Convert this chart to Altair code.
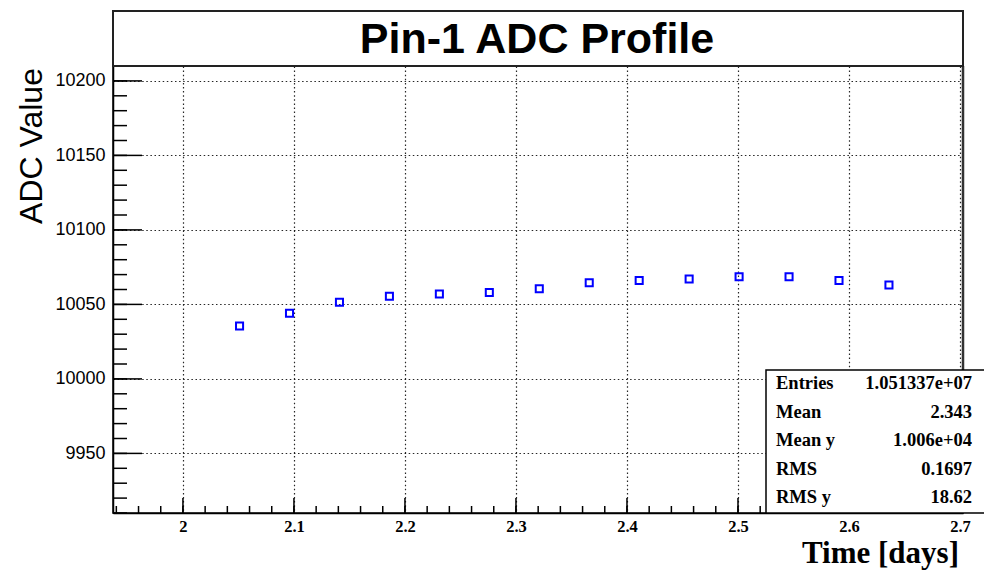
import altair as alt
import pandas as pd

# ---- data ----
time_days = [2.051, 2.096, 2.141, 2.186, 2.231, 2.276, 2.321, 2.366,
             2.411, 2.456, 2.501, 2.546, 2.591, 2.636]
adc_value = [10035.5, 10044, 10051.5, 10055.5, 10057, 10058, 10060.5,
             10064.5, 10066, 10067, 10068.5, 10068.5, 10066, 10063]

x_major = [2.0, 2.1, 2.2, 2.3, 2.4, 2.5, 2.6, 2.7]
y_major = [9950, 10000, 10050, 10100, 10150, 10200]
x_minor = [round(1.94 + 0.02 * i, 2) for i in range(39)]
y_minor = list(range(9910, 10211, 10))

stat_labels = ["Entries", "Mean", "Mean y", "RMS", "RMS y"]
stat_values = ["1.051337e+07", "2.343", "1.006e+04", "0.1697", "18.62"]

title_text = "Pin-1 ADC Profile"
x_title = "Time [days]"
y_title = "ADC Value"

# ---- layout ----
W, H = 850, 447
XD = [1.937, 2.7027]
YD = [9910, 10210]

xs = alt.Scale(domain=XD, nice=False, zero=False)
ys = alt.Scale(domain=YD, nice=False, zero=False)

xaxis = alt.Axis(values=x_major, format="~g", grid=True, ticks=False,
                 labelFont="Liberation Serif", labelFontWeight="bold",
                 labelFontSize=16.5, labelPadding=5, labelColor="black",
                 domainColor="black", domainWidth=1.5,
                 gridColor="black", gridDash=[1.5, 2.6], gridWidth=1.2,
                 gridOpacity=0.85, labelFlush=False)
yaxis = alt.Axis(values=y_major, format="d", grid=True, ticks=False,
                 labelFont="Liberation Sans", labelFontSize=18,
                 labelPadding=8, labelColor="black",
                 domainColor="black", domainWidth=1.5,
                 gridColor="black", gridDash=[1.5, 2.6], gridWidth=1.2,
                 gridOpacity=0.85)

one = pd.DataFrame({"a": [0]})
df = pd.DataFrame({"t": time_days, "adc": adc_value})

points = alt.Chart(df).mark_point(
    shape="square", filled=False, size=50, strokeWidth=2,
    color="#0000ff", opacity=1
).encode(
    x=alt.X("t:Q", scale=xs, title=None, axis=xaxis),
    y=alt.Y("adc:Q", scale=ys, title=None, axis=yaxis),
)

ymaj = alt.Chart(pd.DataFrame({"v": y_major})).mark_rule(color="black", strokeWidth=1.5).encode(
    y=alt.Y("v:Q", scale=ys, axis=None), x=alt.value(0), x2=alt.value(29))
ymin = alt.Chart(pd.DataFrame({"v": y_minor})).mark_rule(color="black", strokeWidth=1.5).encode(
    y=alt.Y("v:Q", scale=ys, axis=None), x=alt.value(0), x2=alt.value(14))
xmaj = alt.Chart(pd.DataFrame({"t": x_major})).mark_rule(color="black", strokeWidth=1.5).encode(
    x=alt.X("t:Q", scale=xs, title=None, axis=xaxis), y=alt.value(H), y2=alt.value(H - 15))
xmin = alt.Chart(pd.DataFrame({"t": x_minor})).mark_rule(color="black", strokeWidth=1.5).encode(
    x=alt.X("t:Q", scale=xs, title=None, axis=xaxis), y=alt.value(H), y2=alt.value(H - 7))

right_edge = alt.Chart(one).mark_rule(color="#333333", strokeWidth=2.5).encode(
    x=alt.value(W), y=alt.value(0), y2=alt.value(H))

title_box = alt.Chart(one).mark_rect(fill="white", stroke="#222222", strokeWidth=2).encode(
    x=alt.value(0), x2=alt.value(W), y=alt.value(-55), y2=alt.value(0))
title = alt.Chart(one).mark_text(
    text=title_text, font="Liberation Sans", fontWeight="bold", fontSize=43,
    align="center", baseline="alphabetic", color="black"
).encode(x=alt.value(424), y=alt.value(-13))

ytitle = alt.Chart(one).mark_text(
    text=y_title, font="Liberation Sans", fontSize=32, angle=270,
    align="center", baseline="middle", color="black"
).encode(x=alt.value(-81), y=alt.value(80))

xtitle = alt.Chart(one).mark_text(
    text=x_title, font="Liberation Serif", fontWeight="bold", fontSize=31,
    align="right", baseline="alphabetic", color="black"
).encode(x=alt.value(846), y=alt.value(497))

stat_box = alt.Chart(one).mark_rect(fill="white", stroke="black", strokeWidth=1.5).encode(
    x=alt.value(653), x2=alt.value(885), y=alt.value(304), y2=alt.value(H))

sdf = pd.DataFrame({"label": stat_labels, "value": stat_values})
row_scale = alt.Scale(type="point", domain=stat_labels, range=[317, 431], padding=0)
stat_lab = alt.Chart(sdf).mark_text(
    font="Liberation Serif", fontWeight="bold", fontSize=18.5,
    align="left", baseline="middle", color="black"
).encode(x=alt.value(663), y=alt.Y("label:N", scale=row_scale, axis=None), text="label:N")
stat_val = alt.Chart(sdf).mark_text(
    font="Liberation Serif", fontWeight="bold", fontSize=18.5,
    align="right", baseline="middle", color="black"
).encode(x=alt.value(859), y=alt.Y("label:N", scale=row_scale, axis=None), text="value:N")

chart = alt.layer(
    points, ymaj, ymin, xmaj, xmin, right_edge, title_box, title, ytitle, xtitle,
    stat_box, stat_lab, stat_val
).resolve_scale(y="independent").properties(
    width=W, height=H,
    autosize=alt.AutoSizeParams(type="none"),
    padding={"left": 113, "top": 66, "right": 21, "bottom": 57},
    background="white",
).configure_view(stroke="black", strokeWidth=1.5)

chart.save("out.html", embed_options={"renderer": "svg", "actions": False})
